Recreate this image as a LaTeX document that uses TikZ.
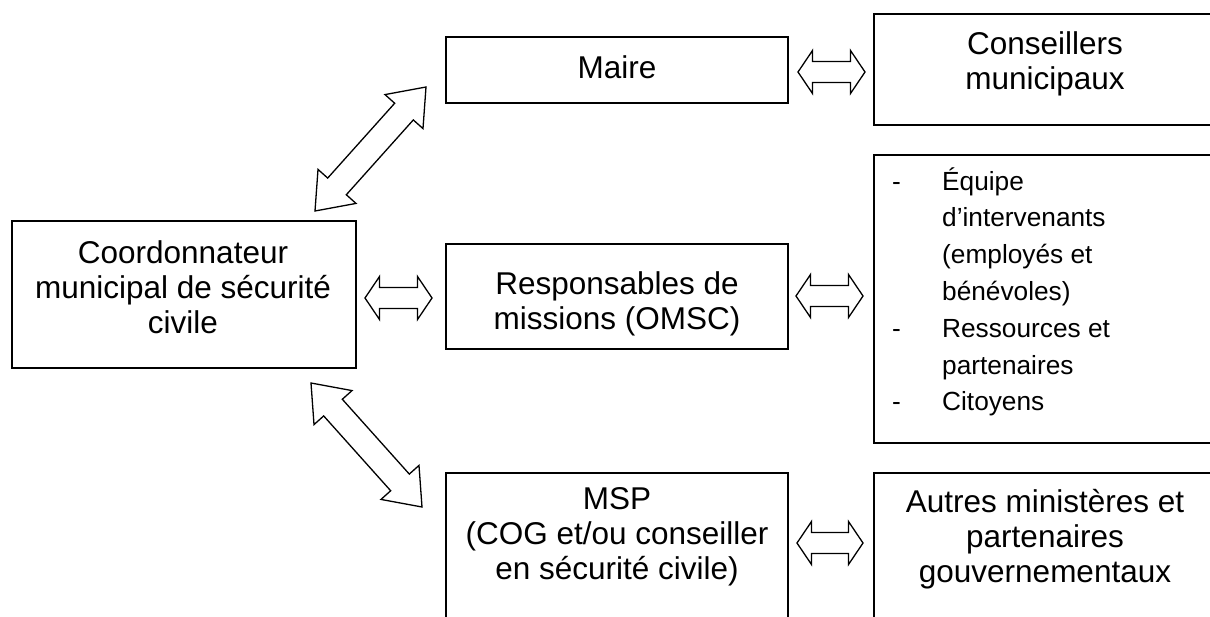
\documentclass[tikz,border=0pt]{standalone}
\usepackage{fontspec}
\setmainfont{Liberation Sans}
\usetikzlibrary{calc}
\newcommand{\mainsize}{\fontsize{31.5pt}{35pt}\selectfont}
\newcommand{\listsize}{\fontsize{26.25pt}{36.8pt}\selectfont}
\newcommand{\mlines}[1]{\begin{tabular}[t]{@{}c@{}}#1\end{tabular}}
\newcommand{\dashcell}{\makebox[50pt][l]{-}}
\newcommand{\blockdarrow}[5]{%
  \path ($(#1)!#3!(#2)$) coordinate (bdaP) ($(#2)!#3!(#1)$) coordinate (bdaQ);
  \draw[blockarrow] (#1) -- ($(bdaP)!#4!90:(#2)$) -- ($(bdaP)!#5!90:(#2)$)
    -- ($(bdaQ)!#5!-90:(#1)$) -- ($(bdaQ)!#4!-90:(#1)$) -- (#2)
    -- ($(bdaQ)!#4!90:(#1)$) -- ($(bdaQ)!#5!90:(#1)$)
    -- ($(bdaP)!#5!-90:(#2)$) -- ($(bdaP)!#4!-90:(#2)$) -- cycle;}
\tikzset{
  box/.style={draw=black, line width=1.7pt, fill=white, inner sep=0pt, anchor=north west},
  txt/.style={inner sep=0pt, font=\mainsize, anchor=base},
  listtxt/.style={inner sep=0pt, font=\listsize, anchor=base west},
  blockarrow/.style={draw=black, line width=1.3pt, fill=white, line join=miter}
}
\begin{document}
\begin{tikzpicture}[x=1pt, y=-1pt]
\useasboundingbox (0,0) rectangle (1210,616);
\fill[white] (0,0) rectangle (1210,616);
% boxes
\node[box, minimum width=344pt, minimum height=147pt] (coord) at (11,220) {};
\node[box, minimum width=342pt, minimum height=66pt] (maire) at (445,36) {};
\node[box, minimum width=344pt, minimum height=111pt] (cons) at (873,13) {};
\node[box, minimum width=342pt, minimum height=105pt] (resp) at (445,243) {};
\node[box, minimum width=344pt, minimum height=288pt] (list) at (873,154) {};
\node[box, minimum width=342pt, minimum height=170pt] (msp) at (445,472) {};
\node[box, minimum width=344pt, minimum height=170pt] (autres) at (873,472) {};
% texts
\node[txt] (coordt) at (183,263) {\mlines{Coordonnateur\\municipal de sécurité\\civile}};
\node[txt] (mairet) at (617,78) {Maire};
\node[txt] (const) at (1045,54) {\mlines{Conseillers\\municipaux}};
\node[txt] (respt) at (617,294) {\mlines{Responsables de\\missions (OMSC)}};
\node[listtxt] (listt) at (892,190) {\begin{tabular}[t]{@{}l@{}l@{}}
\dashcell & Équipe\\
 & d’intervenants\\
 & (employés et\\
 & bénévoles)\\
\dashcell & Ressources et\\
 & partenaires\\
\dashcell & Citoyens
\end{tabular}};
\node[txt] (mspt) at (617,509) {\mlines{MSP\\(COG et/ou conseiller\\en sécurité civile)}};
\node[txt] (autrest) at (1045,512) {\mlines{Autres ministères et\\partenaires\\gouvernementaux}};
% arrow tips
\coordinate (h1a) at (798,72);  \coordinate (h1b) at (865,72);
\coordinate (h2a) at (365,298); \coordinate (h2b) at (432,298);
\coordinate (h3a) at (796,296); \coordinate (h3b) at (863,296);
\coordinate (h4a) at (797,543); \coordinate (h4b) at (863,543);
\coordinate (d1a) at (315,211); \coordinate (d1b) at (426,87);
\coordinate (d2a) at (311,383); \coordinate (d2b) at (422,507);
% arrows
\blockdarrow{h1a}{h1b}{14.5pt}{21.5pt}{10.5pt}
\blockdarrow{h2a}{h2b}{14.5pt}{21.5pt}{10.5pt}
\blockdarrow{h3a}{h3b}{14.5pt}{21.5pt}{10.5pt}
\blockdarrow{h4a}{h4b}{14.5pt}{21.5pt}{10.5pt}
\blockdarrow{d1a}{d1b}{33pt}{25.5pt}{12.5pt}
\blockdarrow{d2a}{d2b}{33pt}{25.5pt}{12.5pt}
\end{tikzpicture}
\end{document}
